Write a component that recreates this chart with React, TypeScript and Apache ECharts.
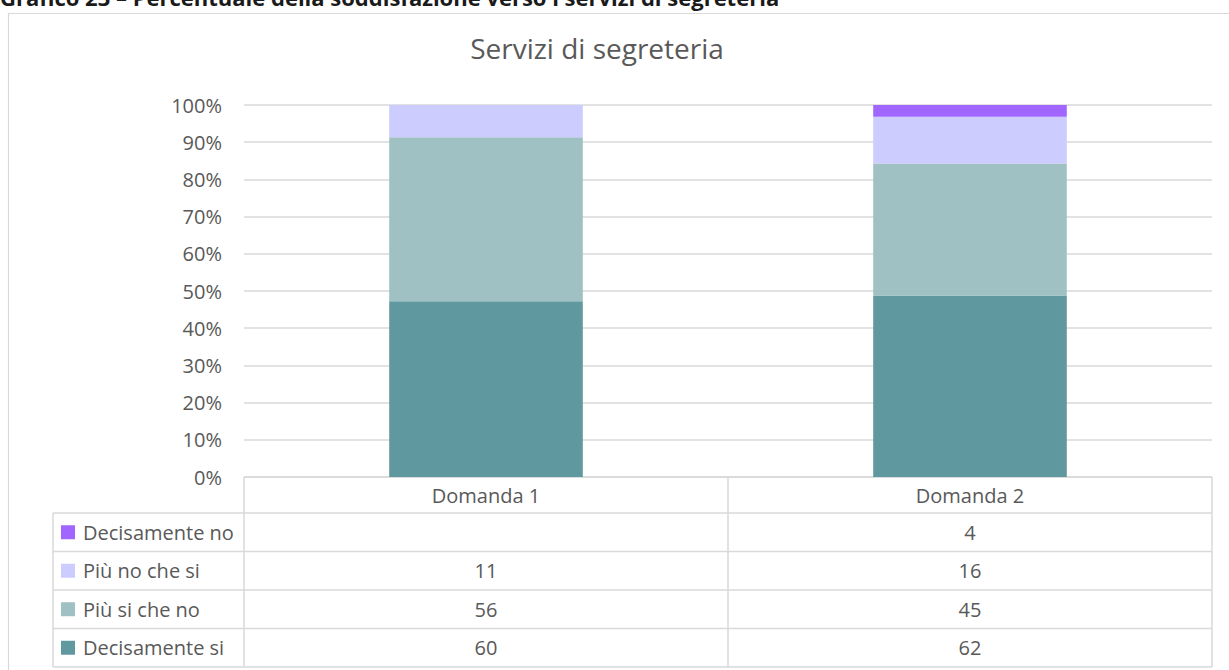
import React, { useEffect, useRef } from "react";
import * as echarts from "echarts";

const categories = ["Domanda 1", "Domanda 2"];
// stacked from bottom to top
const seriesNames = ["Decisamente si", "Più si che no", "Più no che si", "Decisamente no"];
const decisamenteSi = [60, 62];
const piuSiCheNo = [56, 45];
const piuNoCheSi = [11, 16];
const decisamenteNo = [null, 4];
const seriesColors = ["#5F999F", "#A0C1C4", "#CCCCFF", "#A066FF"];
const yTicks = [0, 10, 20, 30, 40, 50, 60, 70, 80, 90, 100];

const FONT = "'Open Sans', sans-serif";
const TXT = "#595959";
const LINE = "#D9D9D9";

export default function App() {
  const ref = useRef<HTMLDivElement>(null);
  useEffect(() => {
    if (!ref.current) return;
    const chart = echarts.init(ref.current, null, { renderer: "svg" });
    const raw = [decisamenteSi, piuSiCheNo, piuNoCheSi, decisamenteNo];
    const totals = categories.map((_, i) => raw.reduce((s, arr) => s + (arr[i] || 0), 0));

    const gridLeft = 244;
    const gridRight = 1212;
    const axisY = 477;
    const headerBottom = 513;
    const rowH = 38.5;
    const tableLeft = 53;
    const catW = (gridRight - gridLeft) / categories.length;

    const graphics: any[] = [];
    // page title (cut off at the top)
    graphics.push({
      type: "text",
      left: 0,
      top: -14,
      style: {
        text: "Grafico 23 – Percentuale della soddisfazione verso i servizi di segreteria",
        font: `bold 22px ${FONT}`,
        fill: "#1a1a1a",
      },
    });
    // chart frame
    graphics.push({
      type: "rect",
      shape: { x: 8.5, y: 13.5, width: 1240, height: 700 },
      style: { fill: "none", stroke: LINE, lineWidth: 1.2 },
      z: -1,
    });
    const lineStyle = { stroke: LINE, lineWidth: 1.5 };
    const rowsTop = headerBottom;
    const tableBottom = rowsTop + rowH * 4;
    // horizontal lines
    graphics.push({ type: "line", shape: { x1: gridLeft, y1: axisY, x2: gridRight, y2: axisY }, style: lineStyle });
    for (let r = 0; r <= 4; r++) {
      const y = rowsTop + r * rowH;
      graphics.push({ type: "line", shape: { x1: tableLeft, y1: y, x2: gridRight, y2: y }, style: lineStyle });
    }
    // vertical lines
    graphics.push({ type: "line", shape: { x1: tableLeft, y1: rowsTop, x2: tableLeft, y2: tableBottom }, style: lineStyle });
    for (let c = 0; c <= categories.length; c++) {
      const x = gridLeft + c * catW;
      graphics.push({ type: "line", shape: { x1: x, y1: axisY, x2: x, y2: tableBottom }, style: lineStyle });
    }
    // header texts
    categories.forEach((cat, i) => {
      graphics.push({
        type: "text",
        x: gridLeft + catW * (i + 0.5),
        y: (axisY + headerBottom) / 2,
        style: { text: cat, font: `20px ${FONT}`, fill: TXT, align: "center", verticalAlign: "middle" },
      });
    });
    // rows: top row is the top series
    for (let r = 0; r < 4; r++) {
      const si = 3 - r;
      const yc = rowsTop + r * rowH + rowH / 2;
      graphics.push({
        type: "rect",
        shape: { x: 61, y: yc - 7, width: 14, height: 14 },
        style: { fill: seriesColors[si] },
      });
      graphics.push({
        type: "text",
        x: 83,
        y: yc,
        style: { text: seriesNames[si], font: `20px ${FONT}`, fill: TXT, align: "left", verticalAlign: "middle" },
      });
      categories.forEach((_, i) => {
        const v = raw[si][i];
        if (v == null) return;
        graphics.push({
          type: "text",
          x: gridLeft + catW * (i + 0.5),
          y: yc,
          style: { text: String(v), font: `20px ${FONT}`, fill: TXT, align: "center", verticalAlign: "middle" },
        });
      });
    }

    chart.setOption({
      animation: false,
      title: {
        text: "Servizi di segreteria",
        left: 592,
        top: 29,
        textAlign: "center",
        textStyle: { fontFamily: FONT, fontSize: 28, fontWeight: "normal", color: TXT },
      },
      grid: { left: gridLeft, right: 1229 - gridRight, top: 105, bottom: 670 - axisY },
      xAxis: {
        type: "category",
        data: categories,
        axisLabel: { show: false },
        axisTick: { show: false },
        axisLine: { show: false },
      },
      yAxis: {
        type: "value",
        min: yTicks[0],
        max: yTicks[yTicks.length - 1],
        interval: 10,
        axisLabel: { formatter: "{value}%", fontFamily: FONT, fontSize: 20, color: TXT, margin: 22 },
        splitLine: { lineStyle: { color: LINE, width: 1.5 } },
        axisLine: { show: false },
        axisTick: { show: false },
      },
      series: seriesNames.map((name, si) => ({
        name,
        type: "bar",
        stack: "total",
        barWidth: "40%",
        itemStyle: { color: seriesColors[si] },
        data: categories.map((_, i) => {
          const v = raw[si][i];
          return v == null ? null : (v / totals[i]) * 100;
        }),
      })),
      graphic: graphics,
    });
    return () => chart.dispose();
  }, []);
  return (
    <div
      ref={ref}
      style={{ position: "fixed", left: 0, top: 0, width: 1229, height: 670, background: "#fff" }}
    />
  );
}
